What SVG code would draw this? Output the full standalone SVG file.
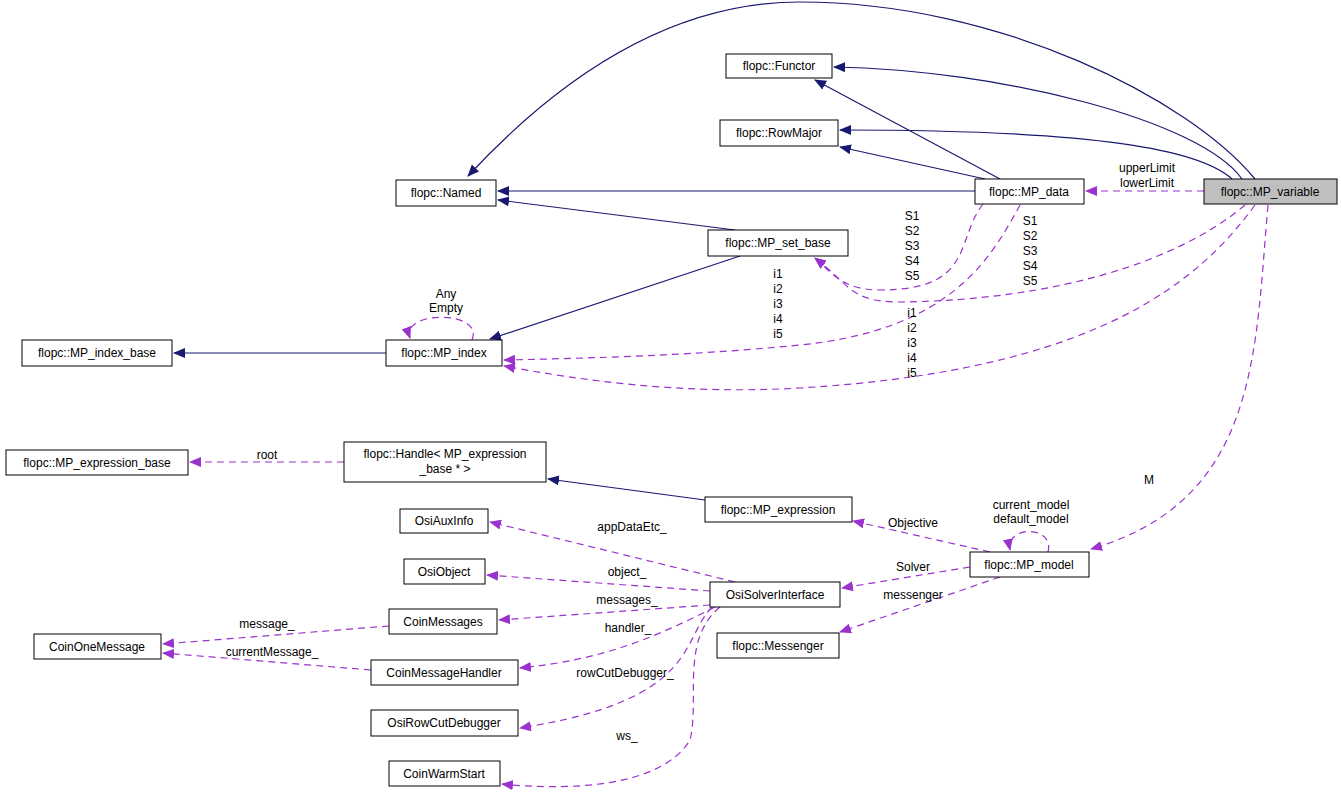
<svg xmlns="http://www.w3.org/2000/svg" width="1341" height="793" viewBox="0 0 1341 793">
<style>
.n rect{fill:#fff;stroke:#000;stroke-width:1}
text{font-family:"Liberation Sans",Arial,sans-serif;font-size:12px;fill:#000}
.n text{text-anchor:middle}
.l{text-anchor:middle}
.s{fill:none;stroke:#191970;stroke-width:1.2}
.d{fill:none;stroke:#9a32cd;stroke-width:1.2;stroke-dasharray:7,5}
</style>
<defs>
<marker id="an" markerWidth="12" markerHeight="10" refX="11" refY="5" orient="auto" markerUnits="userSpaceOnUse"><path d="M0,0L12,5L0,10z" fill="#191970"/></marker>
<marker id="ap" markerWidth="12" markerHeight="10" refX="11" refY="5" orient="auto" markerUnits="userSpaceOnUse"><path d="M0,0L12,5L0,10z" fill="#9a32cd"/></marker>
</defs>
<rect width="1341" height="793" fill="#fff"/>
<g id="edges">
<path class="s" marker-end="url(#an)" d="M1255,179 C1190,100 1000,2 800,2 C640,2 520,120 468,176"/>
<path class="s" marker-end="url(#an)" d="M1242,179 C1200,120 1000,70 834,67"/>
<path class="s" marker-end="url(#an)" d="M1232,179 C1200,150 1100,130 840,130"/>
<path class="s" marker-end="url(#an)" d="M1000,179 L815,80"/>
<path class="s" marker-end="url(#an)" d="M985,179 L840,147"/>
<path class="s" marker-end="url(#an)" d="M975,191 L498,191"/>
<path class="s" marker-end="url(#an)" d="M735,230 L498,200"/>
<path class="s" marker-end="url(#an)" d="M740,256 L490,339"/>
<path class="s" marker-end="url(#an)" d="M386,353 L174,353"/>
<path class="s" marker-end="url(#an)" d="M705,500 L548,479"/>
<path class="d" marker-end="url(#ap)" d="M1204,191 L1086,191"/>
<path class="d" marker-end="url(#ap)" d="M983,204 C955,240 975,290 880,290 C840,290 830,270 815,258"/>
<path class="d" marker-end="url(#ap)" d="M1245,205 C1180,260 1060,300 900,302 C850,302 850,285 815,258"/>
<path class="d" marker-end="url(#ap)" d="M1020,205 C990,260 950,330 800,345 C700,355 600,358 504,360"/>
<path class="d" marker-end="url(#ap)" d="M1255,205 C1200,280 1100,370 800,388 C680,395 580,380 504,366"/>
<path class="d" marker-end="url(#ap)" d="M1268,205 C1255,350 1260,500 1091,549"/>
<path class="d" marker-end="url(#ap)" d="M1048,552 C1055,525 1005,525 1010,550"/>
<path class="d" marker-end="url(#ap)" d="M472,340 C485,310 400,310 410,338"/>
<path class="d" marker-end="url(#ap)" d="M990,552 L853,521"/>
<path class="d" marker-end="url(#ap)" d="M970,567 L842,588"/>
<path class="d" marker-end="url(#ap)" d="M1000,577 L840,632"/>
<path class="d" marker-end="url(#ap)" d="M344,462 L190,462"/>
<path class="d" marker-end="url(#ap)" d="M735,582 L490,522"/>
<path class="d" marker-end="url(#ap)" d="M710,591 L487,575"/>
<path class="d" marker-end="url(#ap)" d="M710,605 L499,620"/>
<path class="d" marker-end="url(#ap)" d="M715,607 C650,640 600,660 520,668"/>
<path class="d" marker-end="url(#ap)" d="M712,607 C680,640 700,700 520,728"/>
<path class="d" marker-end="url(#ap)" d="M720,607 C680,640 700,700 690,740 C660,790 560,790 502,784"/>
<path class="d" marker-end="url(#ap)" d="M389,626 L163,644"/>
<path class="d" marker-end="url(#ap)" d="M371,670 L163,653"/>
<text x="1147" y="172" class="l">upperLimit</text><text x="1147" y="187" class="l">lowerLimit</text>
<text x="912" y="220" class="l">S1</text><text x="912" y="235" class="l">S2</text><text x="912" y="250" class="l">S3</text><text x="912" y="265" class="l">S4</text><text x="912" y="280" class="l">S5</text>
<text x="1030" y="225" class="l">S1</text><text x="1030" y="240" class="l">S2</text><text x="1030" y="255" class="l">S3</text><text x="1030" y="270" class="l">S4</text><text x="1030" y="285" class="l">S5</text>
<text x="778" y="278" class="l">i1</text><text x="778" y="293" class="l">i2</text><text x="778" y="308" class="l">i3</text><text x="778" y="323" class="l">i4</text><text x="778" y="338" class="l">i5</text>
<text x="912" y="317" class="l">i1</text><text x="912" y="332" class="l">i2</text><text x="912" y="347" class="l">i3</text><text x="912" y="362" class="l">i4</text><text x="912" y="377" class="l">i5</text>
<text x="446" y="298" class="l">Any</text><text x="446" y="312" class="l">Empty</text>
<text x="1149" y="484" class="l">M</text>
<text x="1031" y="509" class="l">current_model</text><text x="1031" y="523" class="l">default_model</text>
<text x="913" y="527" class="l">Objective</text>
<text x="913" y="571" class="l">Solver</text>
<text x="913" y="599" class="l">messenger</text>
<text x="267" y="459" class="l">root</text>
<text x="632" y="531" class="l">appDataEtc_</text>
<text x="627" y="576" class="l">object_</text>
<text x="627" y="604" class="l">messages_</text>
<text x="628" y="632" class="l">handler_</text>
<text x="625" y="677" class="l">rowCutDebugger_</text>
<text x="627" y="740" class="l">ws_</text>
<text x="267" y="628" class="l">message_</text>
<text x="272" y="656" class="l">currentMessage_</text>
</g>
<g id="Functor" class="n"><rect x="726" y="54" width="106" height="24"/><text x="779" y="70">flopc::Functor</text></g>
<g id="RowMajor" class="n"><rect x="720" y="120" width="118" height="26"/><text x="779" y="137">flopc::RowMajor</text></g>
<g id="Named" class="n"><rect x="396" y="180" width="100" height="26"/><text x="446" y="197">flopc::Named</text></g>
<g id="MP_data" class="n"><rect x="975" y="179" width="109" height="25"/><text x="1029" y="196">flopc::MP_data</text></g>
<g id="MP_variable" class="n"><rect x="1204" y="179" width="133" height="25" style="fill:#bfbfbf"/><text x="1270" y="196">flopc::MP_variable</text></g>
<g id="MP_set_base" class="n"><rect x="708" y="230" width="140" height="26"/><text x="778" y="247">flopc::MP_set_base</text></g>
<g id="MP_index_base" class="n"><rect x="22" y="340" width="150" height="26"/><text x="97" y="357">flopc::MP_index_base</text></g>
<g id="MP_index" class="n"><rect x="386" y="340" width="116" height="26"/><text x="444" y="357">flopc::MP_index</text></g>
<g id="MP_expression_base" class="n"><rect x="6" y="450" width="182" height="25"/><text x="97" y="467">flopc::MP_expression_base</text></g>
<g id="Handle" class="n"><rect x="344" y="442" width="202" height="40"/><text x="445" y="458">flopc::Handle&lt; MP_expression</text><text x="445" y="473">_base * &gt;</text></g>
<g id="MP_expression" class="n"><rect x="705" y="497" width="147" height="25"/><text x="778" y="514">flopc::MP_expression</text></g>
<g id="OsiAuxInfo" class="n"><rect x="400" y="509" width="88" height="24"/><text x="444" y="525">OsiAuxInfo</text></g>
<g id="OsiObject" class="n"><rect x="404" y="559" width="81" height="25"/><text x="444" y="576">OsiObject</text></g>
<g id="OsiSolverInterface" class="n"><rect x="710" y="582" width="130" height="25"/><text x="775" y="599">OsiSolverInterface</text></g>
<g id="MP_model" class="n"><rect x="970" y="552" width="119" height="25"/><text x="1029" y="569">flopc::MP_model</text></g>
<g id="CoinMessages" class="n"><rect x="389" y="609" width="108" height="25"/><text x="443" y="626">CoinMessages</text></g>
<g id="CoinOneMessage" class="n"><rect x="34" y="634" width="127" height="25"/><text x="97" y="651">CoinOneMessage</text></g>
<g id="CoinMessageHandler" class="n"><rect x="371" y="660" width="147" height="25"/><text x="444" y="677">CoinMessageHandler</text></g>
<g id="Messenger" class="n"><rect x="717" y="633" width="122" height="25"/><text x="778" y="650">flopc::Messenger</text></g>
<g id="OsiRowCutDebugger" class="n"><rect x="371" y="710" width="147" height="26"/><text x="444" y="727">OsiRowCutDebugger</text></g>
<g id="CoinWarmStart" class="n"><rect x="389" y="761" width="111" height="25"/><text x="444" y="778">CoinWarmStart</text></g>
</svg>
